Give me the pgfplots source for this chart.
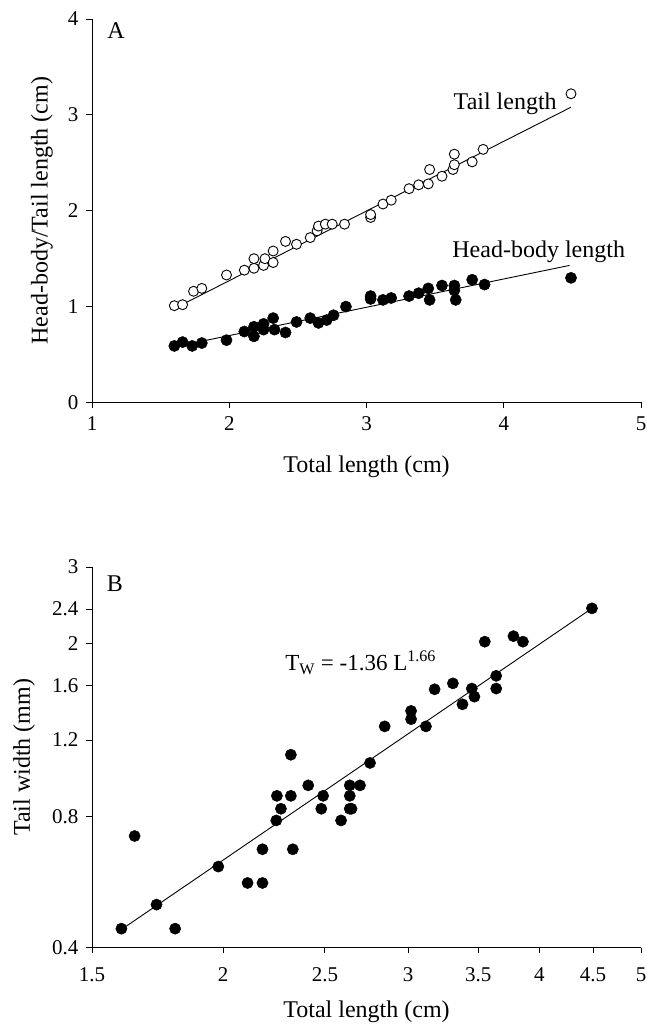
\documentclass[border=0pt]{standalone}
\usepackage{fontspec}
\setmainfont{Liberation Serif}
\usepackage{pgfplots}
\pgfplotsset{compat=1.18}

\pgfplotsset{
  myaxis/.style={
    scale only axis, width=549bp,
    axis x line*=bottom, axis y line*=left,
    tick align=outside, major tick length=6bp,
    axis line style={line width=0.9bp, black},
    every tick/.style={line width=0.9bp, black},
    tick label style={font=\fontsize{21bp}{25bp}\selectfont},
    yticklabel style={xshift=-4bp},
    label style={font=\fontsize{24bp}{28bp}\selectfont},
    /pgf/number format/assume math mode=true,
    clip=false,
    minor tick num=0,
    ylabel style={anchor=base},
  },
  filled/.style={only marks, mark=*, mark size=5.6bp, mark options={fill=black, draw=black, line width=0.5bp}},
  openc/.style={only marks, mark=*, mark size=5bp, mark options={fill=white, draw=black, line width=0.9bp}},
  fitline/.style={no marks, black, line width=0.9bp},
}

\begin{document}
\begin{tikzpicture}
\path[use as bounding box] (0,0) rectangle (647bp,1030bp);

% Panel A
\begin{axis}[myaxis,
  at={(92bp,627.5bp)}, anchor=south west, height=383.5bp,
  xmin=1, xmax=5, ymin=0, ymax=4,
  xtick={1,2,3,4,5}, ytick={0,1,2,3,4},
  xticklabel style={yshift=-5bp},
  xlabel={Total length (cm)},
  ylabel={Head-body/Tail length (cm)},
  xlabel style={at={(axis description cs:0.5,-0.183)}, anchor=base},
  ylabel style={at={(axis description cs:-0.081,0.5)}},
]
\addplot[fitline] coordinates {(1.60,0.98) (4.49,3.08)};
\addplot[fitline] coordinates {(1.60,0.58) (4.48,1.43)};
\addplot[openc] coordinates {
(1.60,1.01) (1.66,1.02) (1.74,1.16) (1.80,1.19) (1.98,1.33) (2.11,1.38)
(2.18,1.40) (2.18,1.50) (2.25,1.43) (2.26,1.50) (2.32,1.46) (2.32,1.58)
(2.41,1.68) (2.49,1.65) (2.59,1.72) (2.64,1.79) (2.65,1.84) (2.70,1.86)
(2.75,1.86) (2.84,1.86) (3.03,1.93) (3.03,1.96) (3.12,2.07) (3.18,2.11)
(3.31,2.23) (3.38,2.27) (3.45,2.28) (3.46,2.43) (3.55,2.36) (3.63,2.43)
(3.64,2.48) (3.64,2.59) (3.77,2.51) (3.85,2.64) (4.49,3.22)
};
\addplot[filled] coordinates {
(1.60,0.59) (1.66,0.63) (1.73,0.59) (1.80,0.62) (1.98,0.65) (2.11,0.74)
(2.18,0.69) (2.18,0.79) (2.25,0.82) (2.25,0.76) (2.32,0.88) (2.33,0.76)
(2.41,0.73) (2.49,0.84) (2.59,0.88) (2.65,0.83) (2.71,0.86) (2.76,0.91)
(2.85,1.00) (3.03,1.11) (3.03,1.08) (3.12,1.07) (3.18,1.09) (3.31,1.11)
(3.38,1.14) (3.45,1.19) (3.46,1.07) (3.55,1.22) (3.64,1.22) (3.64,1.17)
(3.65,1.07) (3.77,1.28) (3.86,1.23) (4.49,1.30)
};
\node[anchor=base west, font=\fontsize{24bp}{28bp}\selectfont] at (axis cs:1.086,3.80) {A};
\node[anchor=base west, font=\fontsize{24bp}{28bp}\selectfont] at (axis cs:3.61,3.06) {Tail length};
\node[anchor=base west, font=\fontsize{24bp}{28bp}\selectfont] at (axis cs:3.60,1.51) {Head-body length};
\end{axis}

% Panel B
\begin{axis}[myaxis,
  at={(92bp,82.5bp)}, anchor=south west, height=380.5bp,
  xmode=log, ymode=log,
  xmin=1.5, xmax=5, ymin=0.4, ymax=3,
  xtick={1.5,2,2.5,3,3.5,4,4.5,5},
  xticklabels={1.5,2,2.5,3,3.5,4,4.5,5},
  ytick={0.4,0.8,1.2,1.6,2,2.4,3},
  yticklabels={0.4,0.8,1.2,1.6,2,2.4,3},
  xminorticks=false, yminorticks=false,
  xticklabel style={yshift=-11bp},
  xlabel={Total length (cm)},
  ylabel={Tail width (mm)},
  xlabel style={at={(axis description cs:0.5,-0.183)}, anchor=base},
  ylabel style={at={(axis description cs:-0.113,0.5)}},
]
\addplot[fitline] coordinates {(1.60,0.44) (4.49,2.41)};
\addplot[filled] coordinates {
(1.60,0.442) (1.647,0.722) (1.728,0.502) (1.80,0.442) (1.979,0.614)
(2.11,0.563) (2.18,0.563) (2.18,0.673) (2.247,0.784) (2.27,0.834)
(2.25,0.893) (2.32,0.893) (2.32,1.11) (2.33,0.673) (2.41,0.944)
(2.49,0.893) (2.48,0.834) (2.59,0.784) (2.64,0.893) (2.64,0.944)
(2.64,0.834) (2.65,0.834) (2.70,0.944) (2.76,1.063) (2.85,1.29) (3.02,1.40)
(3.02,1.34) (3.12,1.29) (3.18,1.57) (3.31,1.62) (3.38,1.45)
(3.45,1.576) (3.47,1.51) (3.55,2.02) (3.64,1.686) (3.64,1.576)
(3.78,2.08) (3.86,2.02) (4.49,2.41)
};
\node[anchor=base west, font=\fontsize{24bp}{28bp}\selectfont] at (axis cs:1.538,2.64) {B};
\node[anchor=base west, font=\fontsize{23bp}{28bp}\selectfont] at (axis cs:2.275,1.73) {T\textsubscript{W} = -1.36 L\textsuperscript{1.66}};
\end{axis}
\end{tikzpicture}
\end{document}
